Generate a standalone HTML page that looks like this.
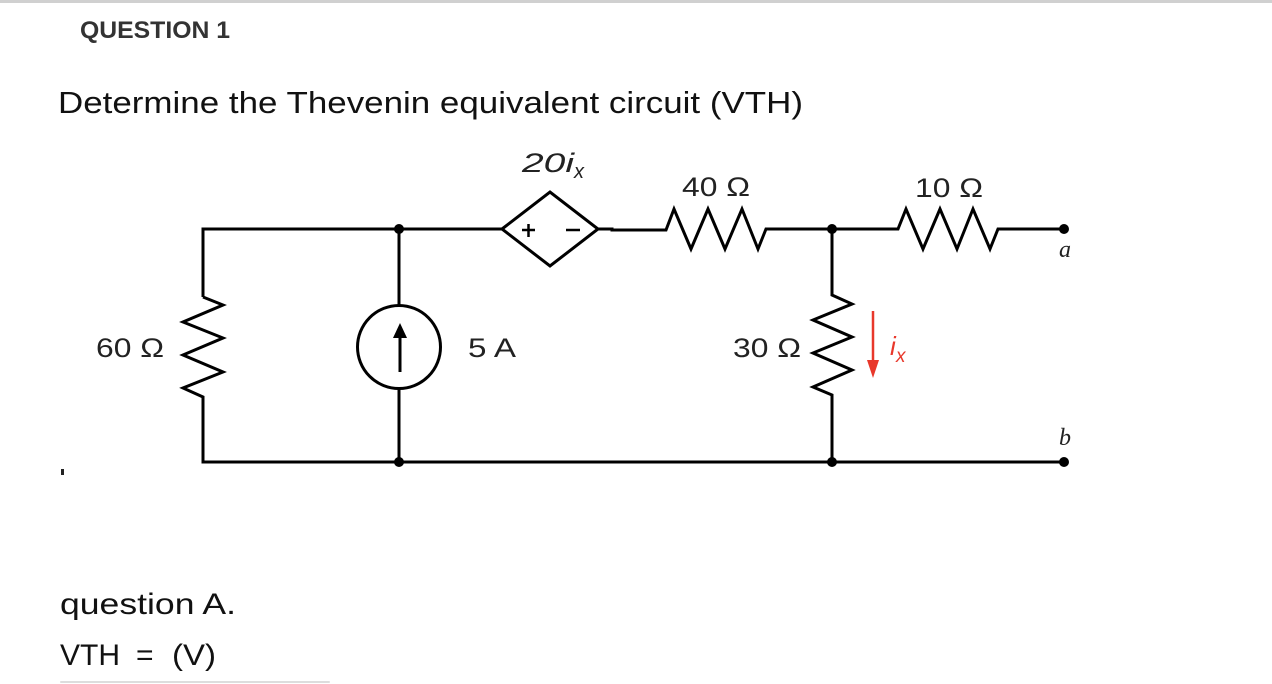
<!DOCTYPE html>
<html><head><style>
html,body{margin:0;padding:0;background:#fff;width:1272px;height:684px;overflow:hidden}
svg{display:block}
</style></head><body>
<svg width="1272" height="684" viewBox="0 0 1272 684" xmlns="http://www.w3.org/2000/svg">
<rect x="0" y="0" width="1272" height="3" fill="#d0d0d0"/>
<g font-family="Liberation Sans, sans-serif">
<text x="80" y="38" font-size="24" font-weight="bold" fill="#333" textLength="150" lengthAdjust="spacingAndGlyphs">QUESTION 1</text>
<text x="58" y="113" font-size="31" fill="#111" textLength="745" lengthAdjust="spacingAndGlyphs">Determine the Thevenin equivalent circuit (VTH)</text>
<text x="60" y="614" font-size="30" fill="#111" textLength="176" lengthAdjust="spacingAndGlyphs">question A.</text>
<text x="60" y="665" font-size="30" fill="#111" textLength="60" lengthAdjust="spacingAndGlyphs">VTH</text>
<text x="136" y="665" font-size="30" fill="#111">=</text>
<text x="172" y="665" font-size="30" fill="#111" textLength="44" lengthAdjust="spacingAndGlyphs">(V)</text>
</g>
<rect x="61" y="469" width="3" height="6" fill="#222"/>
<rect x="60" y="681" width="270" height="2" rx="1" fill="#ddd"/>

<g stroke="#000" stroke-width="3" fill="none" stroke-linejoin="miter">
<polyline points="203,297 203,229 502,229"/>
<polyline points="203,297 223,305 183,322 223,338 183,355 223,372 183,388 203,397 203,462 1064,462"/>
<line x1="399" y1="229" x2="399" y2="305"/>
<line x1="399" y1="388" x2="399" y2="462"/>
<circle cx="399" cy="347" r="41.5"/>
<line x1="400" y1="372" x2="400" y2="335"/>
<polygon points="502,229 550,192 598,229 550,266"/>
<line x1="522" y1="230" x2="535" y2="230" stroke-width="2.5"/>
<line x1="528.5" y1="224" x2="528.5" y2="237" stroke-width="2.5"/>
<line x1="566" y1="230" x2="580" y2="230" stroke-width="2.5"/>
<polyline points="598,229 612,229 612,230 666,230 674,209 691,249 708,209 725,249 742,209 758,249 766,229 832,229"/>
<polyline points="832,229 898,229 906,209 923,249 940,209 957,249 973,209 990,249 998,229 1064,229"/>
<polyline points="832,229 832,295 852,304 813,320 852,337 813,353 852,370 813,387 832,395 832,462"/>
</g>
<polygon points="400,323 393,338 407,338" fill="#000"/>
<g fill="#000">
<circle cx="399" cy="229" r="5"/>
<circle cx="399" cy="462" r="5"/>
<circle cx="832" cy="229" r="5"/>
<circle cx="832" cy="462" r="5"/>
<circle cx="1064" cy="229" r="5"/>
<circle cx="1064" cy="462" r="5"/>
</g>
<line x1="873" y1="311" x2="873" y2="362" stroke="#e8382b" stroke-width="2.5"/>
<polygon points="867,360 879,360 873,378" fill="#e8382b"/>

<g font-family="Liberation Sans, sans-serif" font-size="27" fill="#222">
<text x="96" y="357" textLength="68" lengthAdjust="spacingAndGlyphs">60 Ω</text>
<text x="468" y="357" textLength="48" lengthAdjust="spacingAndGlyphs">5 A</text>
<text x="733" y="357" textLength="68" lengthAdjust="spacingAndGlyphs">30 Ω</text>
<text x="682" y="196" textLength="68" lengthAdjust="spacingAndGlyphs">40 Ω</text>
<text x="915" y="197" textLength="68" lengthAdjust="spacingAndGlyphs">10 Ω</text>
<text x="522" y="172" font-style="italic" textLength="52" lengthAdjust="spacingAndGlyphs">20i</text>
<text x="574" y="178" font-style="italic" font-size="20">x</text>
</g>
<g font-family="Liberation Serif, serif" font-style="italic" font-size="24" fill="#222">
<text x="1059" y="257">a</text>
<text x="1059" y="445">b</text>
</g>
<g font-family="Liberation Sans, sans-serif" font-style="italic" fill="#e8382b">
<text x="890" y="355" font-size="26">i</text>
<text x="896" y="362" font-size="19">x</text>
</g>
</svg>
</body></html>
